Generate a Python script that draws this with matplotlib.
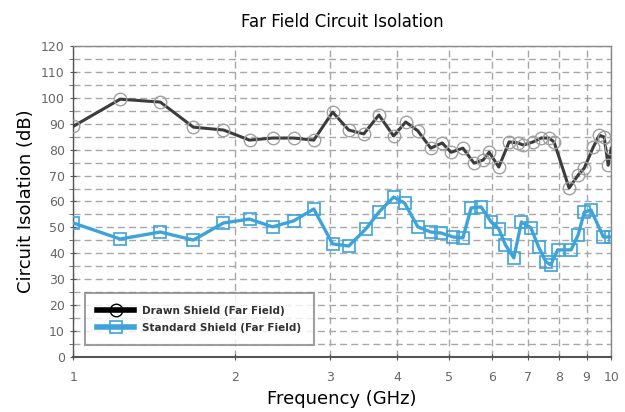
import matplotlib.pyplot as plt
from matplotlib.ticker import FixedLocator, NullLocator, MultipleLocator

# Drawn shield (far field) measurements
drawn_f = [1.0, 1.223, 1.452, 1.673, 1.903, 2.127, 2.347, 2.569, 2.80, 3.036,
           3.252, 3.468, 3.70, 3.94, 4.15, 4.37, 4.62, 4.85, 5.04, 5.30,
           5.56, 5.78, 5.93, 6.18, 6.46, 6.71, 6.86, 7.16, 7.41, 7.66,
           7.83, 8.35, 8.68, 8.91, 9.26, 9.50, 9.70, 9.87, 10.0]
drawn_db = [89, 99.5, 98.4, 88.7, 87.6, 83.7, 84.5, 84.5, 83.7, 94.5,
            87.6, 86.1, 93.4, 85.3, 90.7, 87.3, 80.6, 82.6, 79, 80.6,
            74.8, 76, 79, 73.3, 83, 82.6, 81.8, 83, 84.5, 84.5,
            83, 65.2, 70.2, 72.9, 81, 85.6, 84.9, 74, 80.6]

# Standard shield (far field) measurements
std_f = [1.0, 1.223, 1.452, 1.673, 1.903, 2.127, 2.347, 2.569, 2.80, 3.036,
         3.252, 3.50, 3.70, 3.94, 4.13, 4.37, 4.62, 4.83, 5.08, 5.30,
         5.49, 5.73, 5.98, 6.18, 6.36, 6.59, 6.81, 7.09, 7.33, 7.56,
         7.72, 7.95, 8.42, 8.68, 8.91, 9.17, 9.67, 10.0]
std_db = [51.7, 45.5, 48.2, 45.1, 51.7, 53.2, 50.2, 52.5, 57.1, 43.6,
          42.8, 49.4, 55.9, 61.7, 59.4, 50.2, 48.2, 47.8, 46.3, 45.9,
          57.5, 57.9, 52.1, 49.4, 43.2, 38.2, 52.1, 49.8, 42.4, 36.7,
          35.5, 41.3, 41.3, 47.1, 55.9, 56.7, 46.3, 46.3]

x_ticks = [1, 2, 3, 4, 5, 6, 7, 8, 9, 10]

fig = plt.figure(figsize=(6.25, 4.12), dpi=100)
ax = fig.add_axes([0.117, 0.134, 0.861, 0.754])

ax.plot(drawn_f, drawn_db, color='#3c3c3c', lw=2.2, zorder=3,
        marker='o', ms=9, mfc='none', mec='#a0a0a0', mew=1.0,
        label='Drawn Shield (Far Field)')
ax.plot(std_f, std_db, color='#3ea3d8', lw=2.4, zorder=4,
        marker='s', ms=8.5, mfc='none', mec='#3ea3d8', mew=1.2,
        label='Standard Shield (Far Field)')

ax.set_xscale('log')
ax.set_xlim(1, 10)
ax.set_ylim(0, 120)
ax.xaxis.set_major_locator(FixedLocator(x_ticks))
ax.xaxis.set_minor_locator(NullLocator())
ax.set_xticklabels([str(t) for t in x_ticks])
ax.yaxis.set_major_locator(MultipleLocator(10))
ax.yaxis.set_minor_locator(MultipleLocator(5))

ax.grid(True, which='both', axis='y', ls=(0, (5, 3)), color='#a8a8a8', lw=1.0)
ax.grid(True, which='major', axis='x', ls=(0, (5, 3)), color='#a8a8a8', lw=1.0)

for s in ax.spines.values():
    s.set_color('#888888')
    s.set_linewidth(1.0)
ax.spines['left'].set_color('#555555')
ax.spines['bottom'].set_color('#555555')
ax.spines['bottom'].set_linewidth(1.5)

ax.tick_params(axis='both', which='major', labelsize=9, labelcolor='#666666',
               color='#555555', length=5, direction='inout')
ax.tick_params(axis='y', which='minor', length=3, color='#555555')
ax.tick_params(axis='x', pad=8)

ax.set_title('Far Field Circuit Isolation', fontsize=12, pad=14)
ax.set_xlabel('Frequency (GHz)', fontsize=13, labelpad=4)
ax.set_ylabel('Circuit Isolation (dB)', fontsize=13)

leg = ax.legend(loc='lower left', bbox_to_anchor=(0.012, 0.02), fontsize=7.5,
                frameon=True, fancybox=False, handlelength=3.5,
                borderpad=1.2, labelspacing=0.7)
leg.get_frame().set_edgecolor('#888888')
leg.get_frame().set_linewidth(1.5)
for t in leg.get_texts():
    t.set_fontweight('bold')
    t.set_color('#333333')
handles = leg.legend_handles
handles[0].set_color('black')
handles[0].set_linewidth(4)
handles[0].set_markeredgecolor('black')
handles[1].set_linewidth(4)

fig.savefig('out.png', dpi=100)
